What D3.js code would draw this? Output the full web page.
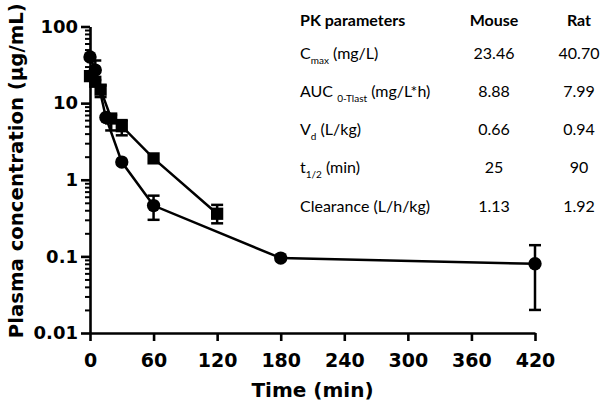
<!DOCTYPE html>
<html>
<head>
<meta charset="utf-8">
<script src="https://cdn.jsdelivr.net/npm/d3@7"></script>
<style>
  body { margin: 0; background: #fff; }
  svg { display: block; }
</style>
</head>
<body>
<div class="d3-canvas"></div>
<script>
const WIDTH = 600;
const HEIGHT = 406;

// Rat (circles)
const ratTimes = [0, 5, 15, 30, 60, 180, 420];
const ratValues = [40, 27, 6.5, 1.7, 0.46, 0.095, 0.08];
const ratErrLow = [null, 20, null, null, 0.30, null, 0.02];
const ratErrHigh = [null, 36, null, null, 0.62, null, 0.14];

// Mouse (squares)
const mouseTimes = [0, 5, 10, 20, 30, 60, 120];
const mouseValues = [22.5, 19, 15, 6.3, 5.0, 1.9, 0.36];
const mouseErrLow = [null, null, 12, 4.4, 3.8, null, 0.27];
const mouseErrHigh = [null, null, 17, 7, 6, null, 0.47];

const xTicks = [0, 60, 120, 180, 240, 300, 360, 420];
const yTicks = [0.01, 0.1, 1, 10, 100];
const yTickLabels = ['0.01', '0.1', '1', '10', '100'];

// PK table
const tableHeaders = ['PK parameters', 'Mouse', 'Rat'];
const paramNames = ['C', 'AUC ', 'V', 't', 'Clearance (L/h/kg)'];
const paramSubs = ['max', '0-Tlast', 'd', '1/2', ''];
const paramUnits = [' (mg/L)', ' (mg/L*h)', ' (L/kg)', ' (min)', ''];
const mouseParams = ['23.46', '8.88', '0.66', '25', '1.13'];
const ratParams = ['40.70', '7.99', '0.94', '90', '1.92'];

const margin = {top: 26.5, right: 65, bottom: 73, left: 90};
const chartWidth = WIDTH - margin.left - margin.right;
const chartHeight = HEIGHT - margin.top - margin.bottom;

const svg = d3.select('.d3-canvas')
    .append('svg')
        .attr('width', WIDTH)
        .attr('height', HEIGHT);

const chart = svg.append('g')
    .attr('transform', `translate(${margin.left}, ${margin.top})`);

const x = d3.scaleLinear()
    .domain([0, 420])
    .range([0, chartWidth]);
const y = d3.scaleLog()
    .domain([0.01, 100])
    .range([chartHeight, 0]);

// Axes
const xAxis = d3.axisBottom(x)
    .tickValues(xTicks)
    .tickSize(8)
    .tickPadding(4)
    .tickSizeOuter(0);
const xAxisGroup = chart.append('g')
    .attr('transform', `translate(0, ${chartHeight})`)
    .call(xAxis);

// minor log ticks
const minorTicks = [];
[0.01, 0.1, 1, 10].forEach(d => {
    for (let k = 2; k <= 9; k++) minorTicks.push(d * k);
});
const yMinorGroup = chart.append('g')
    .call(d3.axisLeft(y).tickValues(minorTicks).tickSize(5).tickFormat('').tickSizeOuter(0));
yMinorGroup.select('.domain').remove();

const yAxis = d3.axisLeft(y)
    .tickValues(yTicks)
    .tickSize(9)
    .tickPadding(3)
    .tickFormat((d, i) => yTickLabels[i])
    .tickSizeOuter(0);
const yAxisGroup = chart.append('g').call(yAxis);

chart.selectAll('.domain, .tick line')
    .attr('stroke', '#000')
    .attr('stroke-width', 2.6);
yMinorGroup.selectAll('.tick line').attr('stroke-width', 2);

chart.selectAll('.tick text')
    .attr('fill', '#000')
    .style('font-family', '"DejaVu Sans", sans-serif')
    .style('font-weight', 'bold')
    .style('font-size', '18px');
xAxisGroup.selectAll('.tick text')
    .style('font-size', '19px')
    .attr('dy', '1.15em');

// Axis titles
svg.append('text')
    .attr('x', margin.left + x(210))
    .attr('y', 397)
    .attr('text-anchor', 'middle')
    .style('font-family', '"DejaVu Sans", sans-serif')
    .style('font-weight', 'bold')
    .style('font-size', '20px')
    .text('Time (min)');

svg.append('text')
    .attr('transform', `translate(23, ${margin.top + chartHeight / 2 - 9}) rotate(-90)`)
    .attr('text-anchor', 'middle')
    .style('font-family', '"DejaVu Sans", sans-serif')
    .style('font-weight', 'bold')
    .style('font-size', '19.7px')
    .text('Plasma concentration (μg/mL)');

// Series
const series = [
    {times: ratTimes, values: ratValues, lo: ratErrLow, hi: ratErrHigh, shape: 'circle'},
    {times: mouseTimes, values: mouseValues, lo: mouseErrLow, hi: mouseErrHigh, shape: 'square'}
];

const line = d3.line()
    .x(d => x(d.t))
    .y(d => y(d.v));

series.forEach(s => {
    const pts = s.times.map((t, i) => ({t, v: s.values[i], lo: s.lo[i], hi: s.hi[i]}));

    chart.append('path')
        .datum(pts)
        .attr('fill', 'none')
        .attr('stroke', '#000')
        .attr('stroke-width', 2.5)
        .attr('d', line);

    const bars = pts.filter(d => d.lo !== null);
    const eb = chart.append('g').selectAll('g')
        .data(bars)
        .enter().append('g')
        .attr('stroke', '#000')
        .attr('stroke-width', 2.5);
    eb.append('line')
        .attr('x1', d => x(d.t)).attr('x2', d => x(d.t))
        .attr('y1', d => y(d.lo)).attr('y2', d => y(d.hi));
    eb.append('line')
        .attr('x1', d => x(d.t) - 6).attr('x2', d => x(d.t) + 6)
        .attr('y1', d => y(d.lo)).attr('y2', d => y(d.lo));
    eb.append('line')
        .attr('x1', d => x(d.t) - 6).attr('x2', d => x(d.t) + 6)
        .attr('y1', d => y(d.hi)).attr('y2', d => y(d.hi));

    const sym = d3.symbol()
        .type(s.shape === 'circle' ? d3.symbolCircle : d3.symbolSquare)
        .size(s.shape === 'circle' ? 140 : 150);
    chart.append('g').selectAll('path')
        .data(pts)
        .enter().append('path')
        .attr('transform', d => `translate(${x(d.t)}, ${y(d.v)})`)
        .attr('d', sym)
        .attr('fill', '#000');
});

// PK parameter table
const table = svg.append('g')
    .style('font-family', 'Lato, "Open Sans", sans-serif')
    .style('font-size', '16px')
    .attr('fill', '#000');

const colX = [300, 494, 579];
const headerY = 26;
const rowY = [59, 97, 135, 173, 212];

tableHeaders.forEach((h, i) => {
    table.append('text')
        .attr('x', colX[i])
        .attr('y', headerY)
        .attr('text-anchor', i === 0 ? 'start' : 'middle')
        .style('font-weight', 'bold')
        .text(h);
});

paramNames.forEach((name, i) => {
    const t = table.append('text')
        .attr('x', colX[0])
        .attr('y', rowY[i]);
    t.append('tspan').text(name);
    if (paramSubs[i]) {
        t.append('tspan')
            .attr('dy', 5)
            .style('font-size', '10px')
            .text(paramSubs[i]);
        t.append('tspan')
            .attr('dy', -5)
            .text(paramUnits[i]);
    }
    table.append('text')
        .attr('x', colX[1])
        .attr('y', rowY[i])
        .attr('text-anchor', 'middle')
        .text(mouseParams[i]);
    table.append('text')
        .attr('x', colX[2])
        .attr('y', rowY[i])
        .attr('text-anchor', 'middle')
        .text(ratParams[i]);
});
</script>
</body>
</html>
